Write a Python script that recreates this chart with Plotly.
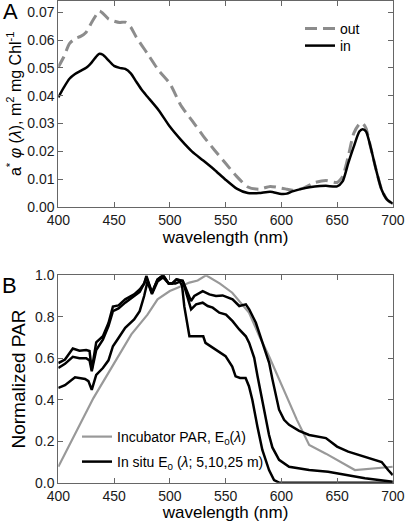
import plotly.graph_objects as go

# ---------------- Panel A data ----------------
wl_a = [400,405,410,415,420,425,430,435,437,440,445,450,455,460,465,470,475,480,490,500,
        510,520,530,540,550,560,570,580,590,600,605,610,620,630,640,650,655,660,665,670,
        673,676,680,685,690,695,700]
a_in = [0.0394,0.043,0.0461,0.0478,0.0489,0.050,0.052,0.0545,0.0551,0.0547,
        0.0527,0.0507,0.050,0.0496,0.048,0.045,0.042,0.0396,0.0348,0.0289,
        0.0241,0.0199,0.0167,0.0134,0.0098,0.0066,0.005,0.005,0.0055,0.0047,
        0.0048,0.0056,0.0067,0.0074,0.0076,0.0074,0.0092,0.0157,0.0217,0.0271,
        0.0279,0.0271,0.0217,0.0134,0.0062,0.0026,0.0012]
a_out = [0.0503,0.054,0.0587,0.0605,0.0613,0.0628,0.0664,0.0696,0.0704,0.0696,
         0.0676,0.0668,0.0663,0.0664,0.0646,0.061,0.058,0.0551,0.0491,0.0444,
         0.0365,0.031,0.0255,0.0205,0.0157,0.011,0.0072,0.0064,0.0074,0.0068,
         0.0064,0.006,0.0068,0.0088,0.0095,0.0088,0.011,0.0181,0.0265,0.0298,
         0.030,0.0283,0.0217,0.0134,0.0062,0.0026,0.0012]

# ---------------- Panel B data ----------------
wl_inc = [400,431.5,465.5,480,489,500,507,517.6,525,532.5,545,556,571,580,589,598,607,614,625,640,666,700]
par_inc = [0.077,0.408,0.715,0.81,0.884,0.924,0.94,0.965,0.975,1.0,0.96,0.916,0.82,0.71,0.61,0.497,0.384,0.303,0.182,0.14,0.061,0.077]

wl_5 = [400,406,413,419,425,428,430,434,440,445,449,454,460,468,473,477,479,484,489,494,
        499,502,506,509,511.6,519,522,529.5,535.5,541.4,547.4,556.3,562.3,568.2,571.2,577.2,583.1,589.1,592.1,595.1,
        598,602.5,607,616,625,640,650,660,675,690,696,700]
par_5 = [0.577,0.594,0.647,0.636,0.64,0.635,0.545,0.677,0.706,0.77,
         0.849,0.855,0.884,0.908,0.932,0.96,0.997,0.916,0.98,1.0,
         0.96,0.96,0.98,0.975,0.973,0.876,0.9,0.924,0.908,0.9,
         0.903,0.884,0.852,0.86,0.836,0.771,0.675,0.578,0.497,0.416,
         0.352,0.303,0.279,0.25,0.23,0.215,0.174,0.15,0.126,0.10,0.06,0.037]

wl_10 = [400,406,413,419,425,428,430,434,440,445,449,454,460,468,473,477,479,484,489,494,
         499,502,506,509,511.6,519.1,523.6,529.5,534,538.5,544.4,550.4,556.3,562.3,568.2,571.2,575.7,578.7,583,586,
         589,592,598,607,625,642,657,675,700]
par_10 = [0.553,0.573,0.607,0.6,0.6,0.59,0.537,0.64,0.69,0.755,
          0.827,0.84,0.868,0.9,0.92,0.96,0.99,0.916,0.98,1.0,
          0.96,0.96,0.98,0.975,0.973,0.836,0.86,0.868,0.852,0.844,
          0.82,0.811,0.779,0.739,0.706,0.674,0.602,0.513,0.40,0.31,
          0.23,0.17,0.11,0.077,0.061,0.053,0.037,0.021,0.005]

wl_25 = [400,406,415,424,427,430,434,440,445,449,454,460,468,473,477,480,484,489,494,499,
         505,509,511,513,517.6,525,530,532,541,550,556,559,563,568,571,574,578.6,583,589,593.5,
         598,610,700]
par_25 = [0.457,0.47,0.508,0.5,0.49,0.448,0.52,0.553,0.59,0.658,
          0.698,0.747,0.787,0.827,0.9,0.97,0.91,0.97,0.99,0.96,
          0.96,0.97,0.95,0.85,0.706,0.706,0.706,0.674,0.64,0.61,
          0.56,0.513,0.505,0.505,0.465,0.40,0.27,0.158,0.061,0.013,
          0.0,0.0,0.0]

x_ticks = [400, 450, 500, 550, 600, 650, 700]

FONT = "Liberation Sans, Arial, sans-serif"
FRAME = "#666666"

fig = go.Figure()

# Panel A
fig.add_trace(go.Scatter(x=wl_a, y=a_out, mode="lines", name="out",
                         line=dict(color="#8c8c8c", width=3, dash="12px,6px", shape="spline", smoothing=0.6),
                         xaxis="x", yaxis="y", legend="legend"))
fig.add_trace(go.Scatter(x=wl_a, y=a_in, mode="lines", name="in",
                         line=dict(color="black", width=2.5, shape="spline", smoothing=0.6),
                         xaxis="x", yaxis="y", legend="legend2"))

# Panel B
fig.add_trace(go.Scatter(x=wl_inc, y=par_inc, mode="lines",
                         name="Incubator PAR, E<sub>0</sub>(<i>λ</i>)",
                         line=dict(color="#999999", width=2.2),
                         xaxis="x2", yaxis="y2", legend="legend3"))
for i, (xx, yy) in enumerate([(wl_5, par_5), (wl_10, par_10), (wl_25, par_25)]):
    fig.add_trace(go.Scatter(x=xx, y=yy, mode="lines",
                             name="In situ E<sub>0</sub> (<i>λ</i>; 5,10,25 m)",
                             line=dict(color="black", width=2.5),
                             showlegend=(i == 0), legendgroup="insitu",
                             xaxis="x2", yaxis="y2", legend="legend4"))

W, H = 405, 522
xdom = [58.3 / W, 392.8 / W]

axis_common = dict(showline=True, linecolor=FRAME, linewidth=1, mirror="ticks",
                   ticks="inside", ticklen=5, tickcolor=FRAME, tickwidth=1,
                   showgrid=False, zeroline=False, automargin=False,
                   ticklabeloverflow="allow",
                   tickfont=dict(family=FONT, size=14, color="#1a1a1a"))

leg_common = dict(xanchor="left", yanchor="middle", bgcolor="rgba(0,0,0,0)",
                  font=dict(size=14, family=FONT), visible=True)

fig.update_layout(
    width=W, height=H,
    margin=dict(l=0, r=0, t=0, b=0, autoexpand=False),
    paper_bgcolor="white", plot_bgcolor="white",
    font=dict(family=FONT, color="black"),
    showlegend=True,
    xaxis=dict(domain=xdom, range=[400, 700], tickvals=x_ticks, anchor="y",
               title=dict(text="wavelength (nm)", font=dict(size=17), standoff=2),
               **axis_common),
    yaxis=dict(domain=[1 - 207 / H, 0.999], range=[0, 0.0742], dtick=0.01, tickformat=".2f",
               anchor="x",
               title=dict(text="a<sup>*</sup> <i>φ</i> (<i>λ</i>), m<sup>2</sup> mg Chl<sup>-1</sup>",
                          font=dict(size=16), standoff=1),
               **axis_common),
    xaxis2=dict(domain=xdom, range=[400, 700], tickvals=x_ticks, anchor="y2",
                title=dict(text="wavelength (nm)", font=dict(size=17), standoff=0),
                **axis_common),
    yaxis2=dict(domain=[1 - 482.7 / H, 1 - 275.3 / H], range=[0, 1], dtick=0.2, tickformat=".1f",
                anchor="x2",
                title=dict(text="Normalized PAR", font=dict(size=19), standoff=4),
                **axis_common),
    legend=dict(x=300 / W, y=1 - 29 / H, **leg_common),
    legend2=dict(x=300 / W, y=1 - 46 / H, **leg_common),
    legend3=dict(x=77 / W, y=1 - 437 / H, **leg_common),
    legend4=dict(x=77 / W, y=1 - 462 / H, **leg_common),
    annotations=[
        dict(text="A", x=10 / W, y=1 - 12 / H, xref="paper", yref="paper",
             showarrow=False, font=dict(size=22, family=FONT), xanchor="center", yanchor="middle"),
        dict(text="B", x=9 / W, y=1 - 285 / H, xref="paper", yref="paper",
             showarrow=False, font=dict(size=22, family=FONT), xanchor="center", yanchor="middle"),
    ],
)

fig.write_html("out.html", config={"displayModeBar": False},
               post_script="document.body.style.margin='0px';document.body.style.padding='0px';")
